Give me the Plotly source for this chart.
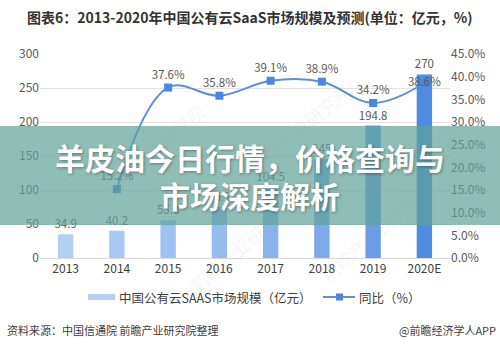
import plotly.graph_objects as go

years = ["2013", "2014", "2015", "2016", "2017", "2018", "2019", "2020E"]
market_size = [34.9, 40.2, 55.3, 75.1, 104.5, 145.2, 194.8, 270]
size_labels = ["34.9", "40.2", "55.3", "75.1", "104.5", "145", "194.8", "270"]
growth = [None, 15.2, 37.6, 35.8, 39.1, 38.9, 34.2, 38.6]
growth_labels = ["", "15.2%", "37.6%", "35.8%", "39.1%", "38.9%", "34.2%", "38.6%"]
bar_colors = ["#b3cff3", "#aac9f2", "#a0c2f0", "#96bbee", "#8bb4ec", "#7eaaea", "#6a9de6", "#4f8de2"]
legend_bar = "中国公有云SAAS市场规模（亿元）"
legend_line = "同比（%）"

FONT = "Noto Sans CJK SC"
L, R, T, B = 40, 50, 54, 92
PW, PH = 500 - L - R, 350 - T - B

def px_x(x):
    return (x - L) / PW

def px_y(y):
    return (350 - B - y) / PH

fig = go.Figure()
fig.add_trace(go.Bar(
    x=years, y=market_size, name=legend_bar,
    marker=dict(color=bar_colors, line=dict(width=0)),
    width=0.3,
    text=size_labels, textposition="outside", constraintext="none",
    textfont=dict(size=11.5, color="#595959", family=FONT),
    cliponaxis=False, showlegend=False,
))
fig.add_trace(go.Scatter(
    x=years, y=growth, name=legend_line, yaxis="y2",
    mode="lines+markers+text",
    line=dict(color="#5b8fd6", width=2, shape="spline", smoothing=1.1),
    marker=dict(symbol="square", size=8, color="#4a86e2"),
    text=growth_labels,
    textposition=["top center"] * 7 + ["middle center"],
    textfont=dict(size=11.5, color="#595959", family=FONT),
    cliponaxis=False, showlegend=False,
))

shapes = [
    # legend symbols
    dict(type="rect", xref="paper", yref="paper", x0=px_x(88), x1=px_x(115),
         y0=px_y(300), y1=px_y(294), fillcolor="#b3cff3", line=dict(width=0)),
    dict(type="line", xref="paper", yref="paper", x0=px_x(323), x1=px_x(355),
         y0=px_y(297), y1=px_y(297), line=dict(color="#5b8fd6", width=2)),
    dict(type="rect", xref="paper", yref="paper", x0=px_x(336), x1=px_x(343),
         y0=px_y(300.5), y1=px_y(293.5), fillcolor="#4a86e2", line=dict(width=0)),
    # banner
    dict(type="rect", xref="paper", yref="paper",
         x0=px_x(0), x1=px_x(500), y0=px_y(225), y1=px_y(126),
         fillcolor="rgba(95,162,152,0.70)", line=dict(width=0), layer="above"),
]

annotations = [
    dict(text="<b>图表6：2013-2020年中国公有云SaaS市场规模及预测(单位：亿元，%)</b>",
         xref="paper", yref="paper", x=px_x(250), y=px_y(17), showarrow=False,
         font=dict(size=14, color="#333333", family=FONT), xanchor="center", yanchor="middle"),
    dict(text=legend_bar, xref="paper", yref="paper", x=px_x(117), y=px_y(297),
         showarrow=False, xanchor="left", yanchor="middle",
         font=dict(size=12.5, color="#404040", family=FONT)),
    dict(text=legend_line, xref="paper", yref="paper", x=px_x(357), y=px_y(297),
         showarrow=False, xanchor="left", yanchor="middle",
         font=dict(size=12.5, color="#404040", family=FONT)),
    dict(text="<b>羊皮油今日行情，价格查询与</b>", xref="paper", yref="paper",
         x=px_x(250), y=px_y(157), showarrow=False, xanchor="center", yanchor="middle",
         font=dict(size=30, color="white", family=FONT, shadow="1px 1px 3px rgba(0,0,0,0.35)")),
    dict(text="<b>市场深度解析</b>", xref="paper", yref="paper",
         x=px_x(250), y=px_y(195), showarrow=False, xanchor="center", yanchor="middle",
         font=dict(size=30, color="white", family=FONT, shadow="1px 1px 3px rgba(0,0,0,0.35)")),
    dict(text="资料来源：中国信通院 前瞻产业研究院整理", xref="paper", yref="paper",
         x=px_x(5), y=px_y(330), showarrow=False, xanchor="left", yanchor="middle",
         font=dict(size=11, color="#404040", family=FONT)),
    dict(text="@前瞻经济学人APP", xref="paper", yref="paper",
         x=px_x(498), y=px_y(330), showarrow=False, xanchor="right", yanchor="middle",
         font=dict(size=11, color="#404040", family=FONT)),
]
for (wx, wy) in [(95, 95), (300, 75), (240, 300), (430, 290), (470, 110)]:
    annotations.append(dict(text="前瞻产业研究院", xref="paper", yref="paper",
                            x=px_x(wx), y=px_y(wy), showarrow=False, textangle=-40,
                            font=dict(size=18, color="rgba(150,150,150,0.10)", family=FONT)))

fig.update_layout(
    width=500, height=350,
    margin=dict(l=L, r=R, t=T, b=B),
    paper_bgcolor="white", plot_bgcolor="white",
    font=dict(family=FONT, color="#595959"),
    xaxis=dict(type="category", showgrid=False, showline=True, linecolor="#d9d9d9",
               tickfont=dict(size=12, color="#404040"), ticks=""),
    yaxis=dict(range=[0, 300], dtick=50, showgrid=True, gridcolor="#e3e3e3",
               zeroline=False, tickfont=dict(size=12, color="#595959"), ticks=""),
    yaxis2=dict(range=[0, 45], dtick=5, overlaying="y", side="right", showgrid=False,
                zeroline=False, tickformat=".1f", ticksuffix="%",
                tickfont=dict(size=12, color="#595959"), ticks=""),
    showlegend=False,
    shapes=shapes,
    annotations=annotations,
)

fig.write_html("out.html")
